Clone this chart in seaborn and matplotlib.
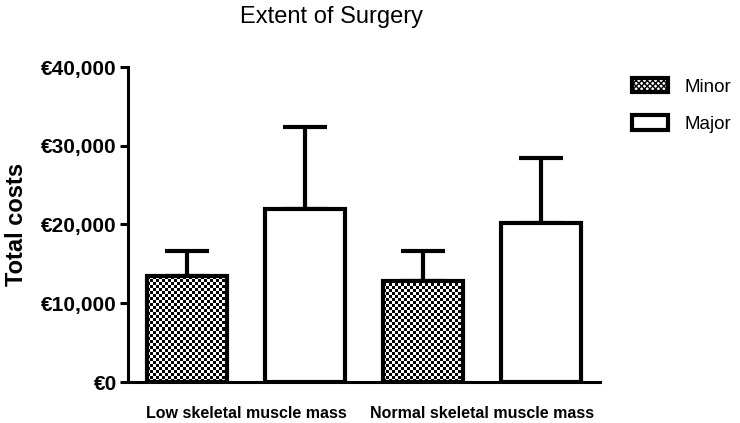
import numpy as np
import pandas as pd
import matplotlib
matplotlib.use("Agg")
import matplotlib.pyplot as plt
from matplotlib.patches import Patch
import seaborn as sns

# values
groups = ["Low skeletal muscle mass", "Normal skeletal muscle mass"]
extent = ["Minor", "Major"]
mean_minor = [13460, 12830]
mean_major = [21970, 20190]
upper_minor = [16630, 16650]   # top of the error bar
upper_major = [32380, 28440]
y_ticks = [0, 10000, 20000, 30000, 40000]
y_tick_labels = ["€0", "€10,000", "€20,000", "€30,000", "€40,000"]

df = pd.DataFrame({
    "group": groups * 2,
    "extent": ["Minor"] * 2 + ["Major"] * 2,
    "cost": mean_minor + mean_major,
})

sns.set_style("ticks")
plt.rcParams["font.family"] = ["Liberation Sans", "DejaVu Sans"]
plt.rcParams.update({"text.color": "black", "axes.labelcolor": "black",
                     "xtick.color": "black", "ytick.color": "black"})

fig = plt.figure(figsize=(7.4, 4.23), dpi=100)
ax = fig.add_axes([128 / 740, 1 - 382 / 423, 472 / 740, 315 / 423])

sns.barplot(data=df, x="group", y="cost", hue="extent", hue_order=extent,
            order=groups, palette=["white", "white"], width=1.0, gap=0.32,
            errorbar=None, edgecolor="black", linewidth=3, legend=False, ax=ax)

ax.set_xlim(-0.5, 1.5)
ax.set_ylim(0, 40000)

# checkerboard fill for the Minor bars
cell = 3.0
for bar in ax.containers[0]:
    bar.set_facecolor("none")
    bar.set_zorder(3)
    x0, y0 = bar.get_x(), 0
    x1, y1 = x0 + bar.get_width(), bar.get_height()
    (px0, py0), (px1, py1) = ax.transData.transform([(x0, y0), (x1, y1)])
    nx = max(int(round((px1 - px0) / cell)), 1)
    ny = max(int(round((py1 - py0) / cell)), 1)
    checker = np.indices((ny, nx)).sum(axis=0) % 2
    im = ax.imshow(checker, cmap="gray", extent=(x0, x1, y0, y1),
                   aspect="auto", interpolation="nearest", zorder=2,
                   origin="lower")
    im.set_clip_path(bar)
for bar in ax.containers[1]:
    bar.set_zorder(3)

ax.set_xlim(-0.5, 1.5)
ax.set_ylim(0, 40000)

# upward-only error bars
for cont, means, tops in [(ax.containers[0], mean_minor, upper_minor),
                          (ax.containers[1], mean_major, upper_major)]:
    xs = [b.get_x() + b.get_width() / 2 for b in cont]
    err = [np.zeros(len(means)), np.array(tops) - np.array(means)]
    ax.errorbar(xs, means, yerr=err, fmt="none", ecolor="black",
                elinewidth=3, capsize=15.5, capthick=3, zorder=1)

sns.despine(ax=ax)
for side in ["left", "bottom"]:
    ax.spines[side].set_linewidth(2.2)
    ax.spines[side].set_color("black")

ax.set_yticks(y_ticks)
ax.set_yticklabels(y_tick_labels, fontsize=15, fontweight="bold")
ax.tick_params(axis="y", length=6, width=2.2, pad=2, color="black")
ax.tick_params(axis="x", length=0, pad=17)
for lab in ax.get_xticklabels():
    lab.set_fontsize(11.5)
    lab.set_fontweight("bold")

ax.set_xlabel("")
ax.set_ylabel("Total costs", fontsize=17, fontweight="bold")
ax.yaxis.set_label_coords(-100 / 472, 0.5)

fig.text(332 / 740, 1 - 17 / 423, "Extent of Surgery", fontsize=17,
         ha="center", va="center")

handles = [Patch(facecolor="white", edgecolor="black", linewidth=3, hatch="xxxxxx"),
           Patch(facecolor="white", edgecolor="black", linewidth=3)]
fig.legend(handles, extent, loc="upper left",
           bbox_to_anchor=(615 / 740, 1 - 61 / 423), frameon=False,
           fontsize=13.5, handlelength=1.9, handleheight=0.8,
           handletextpad=0.9, labelspacing=1.05)

fig.savefig("out.png", dpi=100)
